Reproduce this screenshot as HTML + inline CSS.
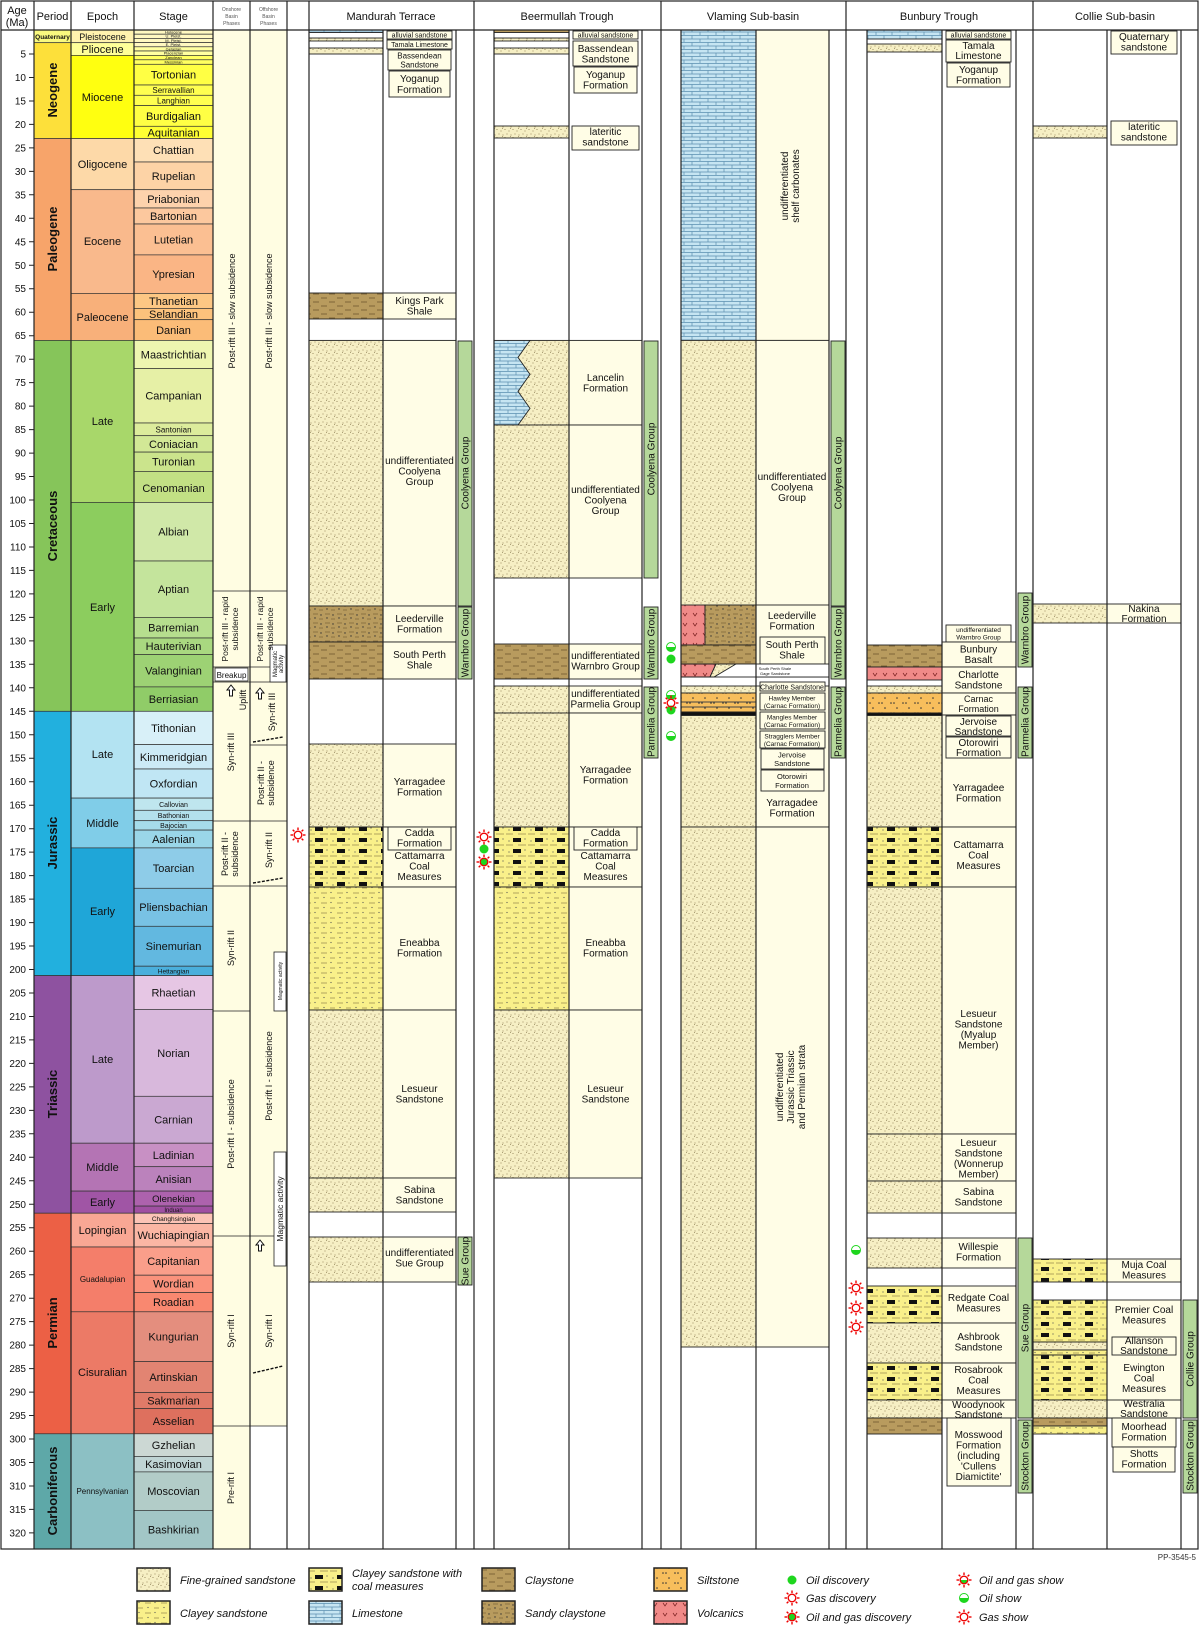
<!DOCTYPE html>
<html><head><meta charset="utf-8"><style>
html,body{margin:0;padding:0;background:#fff}
svg{display:block}
text{font-family:"Liberation Sans",sans-serif;fill:#111}
.n{font-size:10px;text-anchor:middle}
.s{font-size:11px;text-anchor:middle}
.sm{font-size:8px;text-anchor:middle}
.t{font-size:4px;text-anchor:middle}
.ax{font-size:10px;text-anchor:end}
.p{font-size:13px;font-weight:bold;text-anchor:middle}
.g{font-size:10px;text-anchor:middle}
.lg{font-size:11px;font-style:italic}
.h{font-size:11px;text-anchor:middle}
.hs{font-size:5px;text-anchor:middle;fill:#555}
</style></head><body>
<svg width="1200" height="1626" viewBox="0 0 1200 1626" xmlns="http://www.w3.org/2000/svg">
<defs>
<pattern id="fs" width="8" height="8" patternUnits="userSpaceOnUse"><rect width="8" height="8" fill="#f6efc4"/><circle cx="1" cy="1.5" r=".55" fill="#8a7a50"/><circle cx="5" cy="3" r=".55" fill="#8a7a50"/><circle cx="3" cy="6" r=".55" fill="#8a7a50"/><circle cx="7" cy="7" r=".55" fill="#8a7a50"/><circle cx="6.5" cy="0.5" r=".45" fill="#8a7a50"/></pattern>
<pattern id="cs" width="16" height="10" patternUnits="userSpaceOnUse"><rect width="16" height="10" fill="#f9f08a"/><path d="M1 3h6M10 8h5" stroke="#9a8a50" stroke-width=".8"/><circle cx="11" cy="2.5" r=".6" fill="#555"/><circle cx="4" cy="7.5" r=".6" fill="#555"/></pattern>
<pattern id="coal" width="22" height="11" patternUnits="userSpaceOnUse"><rect width="22" height="11" fill="#f9f08a"/><rect x="7" y="2" width="8" height="4" fill="#111"/><path d="M0 9h7M12 9h8" stroke="#9a8a50" stroke-width=".8"/><circle cx="3" cy="5" r=".6" fill="#555"/><circle cx="19" cy="3" r=".6" fill="#555"/></pattern>
<pattern id="clay" width="16" height="8" patternUnits="userSpaceOnUse"><rect width="16" height="8" fill="#b89b5e"/><path d="M1 2h6M9 6h6" stroke="#7e6638" stroke-width=".9"/></pattern>
<pattern id="sclay" width="12" height="9" patternUnits="userSpaceOnUse"><rect width="12" height="9" fill="#b89b5e"/><path d="M1 2h5M7 7h4" stroke="#7e6638" stroke-width=".8"/><circle cx="9" cy="3" r=".7" fill="#333"/><circle cx="3" cy="6" r=".7" fill="#333"/></pattern>
<pattern id="lime" width="16" height="7" patternUnits="userSpaceOnUse"><rect width="16" height="7" fill="#c6e5f2"/><path d="M0 .5h16M0 4h16M4 .5v3.5M12 4v3" stroke="#5a8fb0" stroke-width=".7"/></pattern>
<pattern id="silt" width="12" height="10" patternUnits="userSpaceOnUse"><rect width="12" height="10" fill="#f7be5c"/><circle cx="3" cy="3" r=".8" fill="#333"/><circle cx="6" cy="3" r=".8" fill="#333"/><circle cx="9" cy="8" r=".8" fill="#333"/></pattern>
<pattern id="volc" width="10" height="10" patternUnits="userSpaceOnUse"><rect width="10" height="10" fill="#f08a88"/><path d="M3 3l2 3l2-3" stroke="#7a2020" stroke-width=".7" fill="none"/></pattern>
<symbol id="sun" viewBox="-8 -8 16 16"><circle r="3.8" fill="none" stroke="#e00" stroke-width="1.4"/><g stroke="#e00" stroke-width="1.4"><line x1="0" y1="-7.5" x2="0" y2="-5"/><line x1="0" y1="7.5" x2="0" y2="5"/><line x1="-7.5" y1="0" x2="-5" y2="0"/><line x1="7.5" y1="0" x2="5" y2="0"/><line x1="-5.3" y1="-5.3" x2="-3.6" y2="-3.6"/><line x1="5.3" y1="5.3" x2="3.6" y2="3.6"/><line x1="-5.3" y1="5.3" x2="-3.6" y2="3.6"/><line x1="5.3" y1="-5.3" x2="3.6" y2="-3.6"/></g></symbol>
</defs>
<rect width="1200" height="1626" fill="#fff"/>

<rect x="213" y="30" width="37" height="1519" fill="#fffde2"/>
<rect x="250" y="30" width="37" height="1396" fill="#fffde2"/>

<rect x="34" y="30" width="37" height="12.7" fill="#f9f97f" stroke="#333" stroke-width=".7"/>
<text x="52.5" y="39" style="font-size:6.5px;font-weight:bold;text-anchor:middle">Quaternary</text>
<rect x="34" y="42.7" width="37" height="95.8" fill="#fde03a" stroke="#333" stroke-width=".7"/>
<rect x="34" y="138.5" width="37" height="201.9" fill="#f7a46a" stroke="#333" stroke-width=".7"/>
<rect x="34" y="340.4" width="37" height="370.9" fill="#86c55a" stroke="#333" stroke-width=".7"/>
<rect x="34" y="711.3" width="37" height="264.3" fill="#22b0de" stroke="#333" stroke-width=".7"/>
<rect x="34" y="975.6" width="37" height="237.6" fill="#8e52a0" stroke="#333" stroke-width=".7"/>
<rect x="34" y="1213.2" width="37" height="220.6" fill="#ec6045" stroke="#333" stroke-width=".7"/>
<rect x="34" y="1433.8" width="37" height="115.2" fill="#5ea8a8" stroke="#333" stroke-width=".7"/>
<text class="p" transform="translate(57,90) rotate(-90)">Neogene</text>
<text class="p" transform="translate(57,239) rotate(-90)">Paleogene</text>
<text class="p" transform="translate(57,526) rotate(-90)">Cretaceous</text>
<text class="p" transform="translate(57,843) rotate(-90)">Jurassic</text>
<text class="p" transform="translate(57,1094) rotate(-90)">Triassic</text>
<text class="p" transform="translate(57,1323) rotate(-90)">Permian</text>
<text class="p" transform="translate(57,1491) rotate(-90)">Carboniferous</text>

<g stroke="#333" stroke-width=".7">
<rect x="71" y="30" width="63" height="12.7" fill="#fff2ae"/>
<rect x="71" y="42.7" width="63" height="12.7" fill="#ffff99"/>
<rect x="71" y="55.4" width="63" height="83.1" fill="#ffff10"/>
<rect x="71" y="138.5" width="63" height="51.2" fill="#fdd9a8"/>
<rect x="71" y="189.7" width="63" height="103.7" fill="#f9b98c"/>
<rect x="71" y="293.4" width="63" height="47" fill="#f8b07a"/>
<rect x="71" y="340.4" width="63" height="162" fill="#a8d76a"/>
<rect x="71" y="502.4" width="63" height="208.9" fill="#8ccd5e"/>
<rect x="71" y="711.3" width="63" height="86.8" fill="#b3e3f2"/>
<rect x="71" y="798.1" width="63" height="49.8" fill="#80cde8"/>
<rect x="71" y="847.9" width="63" height="127.7" fill="#1fa6d8"/>
<rect x="71" y="975.6" width="63" height="167.6" fill="#bd9acb"/>
<rect x="71" y="1143.2" width="63" height="47.9" fill="#b474b4"/>
<rect x="71" y="1191.1" width="63" height="22.1" fill="#a055a5"/>
<rect x="71" y="1213.2" width="63" height="33.8" fill="#f9a794"/>
<rect x="71" y="1247" width="63" height="64.8" fill="#f47e6a"/>
<rect x="71" y="1311.8" width="63" height="122" fill="#ec7a66"/>
<rect x="71" y="1433.8" width="63" height="115.2" fill="#8cc0c4"/>
</g>
<text x="102.5" y="40" class="sm" style="font-size:9px">Pleistocene</text>
<text x="102.5" y="53" class="s">Pliocene</text>
<text x="102.5" y="101" class="s">Miocene</text>
<text x="102.5" y="168" class="s">Oligocene</text>
<text x="102.5" y="245" class="s">Eocene</text>
<text x="102.5" y="321" class="s">Paleocene</text>
<text x="102.5" y="425" class="s">Late</text>
<text x="102.5" y="611" class="s">Early</text>
<text x="102.5" y="758" class="s">Late</text>
<text x="102.5" y="827" class="s">Middle</text>
<text x="102.5" y="915" class="s">Early</text>
<text x="102.5" y="1063" class="s">Late</text>
<text x="102.5" y="1171" class="s">Middle</text>
<text x="102.5" y="1206" class="s">Early</text>
<text x="102.5" y="1234" class="s">Lopingian</text>
<text x="102.5" y="1282" class="sm">Guadalupian</text>
<text x="102.5" y="1376" class="s">Cisuralian</text>
<text x="102.5" y="1494" class="sm">Pennsylvanian</text>

<g stroke="#333" stroke-width=".7">
<rect x="134" y="30" width="79" height="4.2" fill="#fff8c0"/><rect x="134" y="34.2" width="79" height="4.2" fill="#fff8c0"/><rect x="134" y="38.4" width="79" height="4.2" fill="#fff8c0"/><rect x="134" y="42.6" width="79" height="4.2" fill="#fff8c0"/><rect x="134" y="46.8" width="79" height="4.2" fill="#ffffa0"/><rect x="134" y="51" width="79" height="4.4" fill="#ffffa0"/><rect x="134" y="55.4" width="79" height="4.4" fill="#ffff60"/><rect x="134" y="59.8" width="79" height="4.5" fill="#ffff60"/>
<rect x="134" y="64.3" width="79" height="20.7" fill="#ffff44"/>
<rect x="134" y="85" width="79" height="10.3" fill="#ffff50"/>
<rect x="134" y="95.3" width="79" height="10.3" fill="#ffff50"/>
<rect x="134" y="105.6" width="79" height="20.7" fill="#ffff44"/>
<rect x="134" y="126.3" width="79" height="12.2" fill="#ffff33"/>
<rect x="134" y="138.5" width="79" height="23.5" fill="#fee0b6"/>
<rect x="134" y="162" width="79" height="27.7" fill="#fdd3a6"/>
<rect x="134" y="189.7" width="79" height="18.3" fill="#fdd2ac"/>
<rect x="134" y="208" width="79" height="16" fill="#fcc89e"/>
<rect x="134" y="224" width="79" height="30.9" fill="#fbbf92"/>
<rect x="134" y="254.9" width="79" height="38.5" fill="#fab585"/>
<rect x="134" y="293.4" width="79" height="15" fill="#fdc784"/>
<rect x="134" y="308.4" width="79" height="11.3" fill="#fcc27c"/>
<rect x="134" y="319.7" width="79" height="20.7" fill="#fbbc78"/>
<rect x="134" y="340.4" width="79" height="28.1" fill="#eef6b0"/>
<rect x="134" y="368.5" width="79" height="54.5" fill="#e6f0a6"/>
<rect x="134" y="423" width="79" height="12.7" fill="#dcec9c"/>
<rect x="134" y="435.7" width="79" height="16.4" fill="#d2e896"/>
<rect x="134" y="452.1" width="79" height="19.3" fill="#cbe48c"/>
<rect x="134" y="471.4" width="79" height="31" fill="#c2e084"/>
<rect x="134" y="502.4" width="79" height="58.6" fill="#d0e8a8"/>
<rect x="134" y="561" width="79" height="56.4" fill="#c4e49c"/>
<rect x="134" y="617.4" width="79" height="20.6" fill="#b6de8e"/>
<rect x="134" y="638" width="79" height="16.5" fill="#a9d880"/>
<rect x="134" y="654.5" width="79" height="32.4" fill="#9dd274"/>
<rect x="134" y="686.9" width="79" height="24.4" fill="#90cc68"/>
<rect x="134" y="711.3" width="79" height="33.3" fill="#d8f0f8"/>
<rect x="134" y="744.6" width="79" height="24.4" fill="#cceaf6"/>
<rect x="134" y="769" width="79" height="29.1" fill="#c0e6f4"/>
<rect x="134" y="798.1" width="79" height="12.2" fill="#bfe6ee"/>
<rect x="134" y="810.3" width="79" height="10.4" fill="#b3e0ec"/>
<rect x="134" y="820.7" width="79" height="9.4" fill="#a6dcea"/>
<rect x="134" y="830.1" width="79" height="17.8" fill="#9ad6e8"/>
<rect x="134" y="847.9" width="79" height="40.4" fill="#8ecce8"/>
<rect x="134" y="888.3" width="79" height="38" fill="#78c2e4"/>
<rect x="134" y="926.3" width="79" height="39.9" fill="#62b8e0"/>
<rect x="134" y="966.2" width="79" height="9.4" fill="#4aafdc"/>
<rect x="134" y="975.6" width="79" height="33.8" fill="#e6c6e4"/>
<rect x="134" y="1009.4" width="79" height="86.9" fill="#d8b8dc"/>
<rect x="134" y="1096.3" width="79" height="46.9" fill="#caa8d2"/>
<rect x="134" y="1143.2" width="79" height="23.5" fill="#c890c4"/>
<rect x="134" y="1166.7" width="79" height="24.4" fill="#bb82bc"/>
<rect x="134" y="1191.1" width="79" height="15" fill="#ad62ad"/>
<rect x="134" y="1206.1" width="79" height="7.1" fill="#a050a2"/>
<rect x="134" y="1213.2" width="79" height="10.3" fill="#fcc4b6"/>
<rect x="134" y="1223.5" width="79" height="23.5" fill="#fbb6a4"/>
<rect x="134" y="1247" width="79" height="28.2" fill="#fa9e8a"/>
<rect x="134" y="1275.2" width="79" height="17.3" fill="#fa927c"/>
<rect x="134" y="1292.5" width="79" height="19.3" fill="#f98870"/>
<rect x="134" y="1311.8" width="79" height="49.7" fill="#e48e7e"/>
<rect x="134" y="1361.5" width="79" height="31" fill="#e28472"/>
<rect x="134" y="1392.5" width="79" height="16" fill="#e07a68"/>
<rect x="134" y="1408.5" width="79" height="25.3" fill="#de705e"/>
<rect x="134" y="1433.8" width="79" height="22.6" fill="#ccd8d4"/>
<rect x="134" y="1456.4" width="79" height="15.5" fill="#bfd4d4"/>
<rect x="134" y="1471.9" width="79" height="38.5" fill="#b2ccc8"/>
<rect x="134" y="1510.4" width="79" height="38.6" fill="#a2c6c6"/>
</g>
<text x="173.5" y="33.5" class="t">Holocene</text><text x="173.5" y="37.7" class="t">U. Pleist.</text><text x="173.5" y="41.9" class="t">M. Pleist.</text><text x="173.5" y="46.1" class="t">E. Pleist.</text><text x="173.5" y="50.3" class="t">Gelasian</text><text x="173.5" y="54.6" class="t">Piacenzian</text><text x="173.5" y="59" class="t">Zanclean</text><text x="173.5" y="63.5" class="t">Messinian</text>
<text x="173.5" y="78.5" class="s">Tortonian</text>
<text x="173.5" y="93" class="sm">Serravallian</text>
<text x="173.5" y="103.3" class="sm">Langhian</text>
<text x="173.5" y="119.8" class="s">Burdigalian</text>
<text x="173.5" y="136.3" class="s">Aquitanian</text>
<text x="173.5" y="154.2" class="s">Chattian</text>
<text x="173.5" y="179.8" class="s">Rupelian</text>
<text x="173.5" y="202.8" class="s">Priabonian</text>
<text x="173.5" y="219.9" class="s">Bartonian</text>
<text x="173.5" y="243.4" class="s">Lutetian</text>
<text x="173.5" y="278" class="s">Ypresian</text>
<text x="173.5" y="304.8" class="s">Thanetian</text>
<text x="173.5" y="318" class="s">Selandian</text>
<text x="173.5" y="334" class="s">Danian</text>
<text x="173.5" y="358.4" class="s">Maastrichtian</text>
<text x="173.5" y="399.7" class="s">Campanian</text>
<text x="173.5" y="432.3" class="sm">Santonian</text>
<text x="173.5" y="447.8" class="s">Coniacian</text>
<text x="173.5" y="465.7" class="s">Turonian</text>
<text x="173.5" y="491.8" class="s">Cenomanian</text>
<text x="173.5" y="535.7" class="s">Albian</text>
<text x="173.5" y="593.2" class="s">Aptian</text>
<text x="173.5" y="631.7" class="s">Barremian</text>
<text x="173.5" y="650.2" class="s">Hauterivian</text>
<text x="173.5" y="674.7" class="s">Valanginian</text>
<text x="173.5" y="703" class="s">Berriasian</text>
<text x="173.5" y="731.9" class="s">Tithonian</text>
<text x="173.5" y="760.8" class="s">Kimmeridgian</text>
<text x="173.5" y="787.5" class="s">Oxfordian</text>
<text x="173.5" y="807" class="sm" style="font-size:7px">Callovian</text>
<text x="173.5" y="818" class="sm" style="font-size:7px">Bathonian</text>
<text x="173.5" y="828" class="sm" style="font-size:7px">Bajocian</text>
<text x="173.5" y="842.8" class="s">Aalenian</text>
<text x="173.5" y="872" class="s">Toarcian</text>
<text x="173.5" y="911.2" class="s">Pliensbachian</text>
<text x="173.5" y="950.2" class="s">Sinemurian</text>
<text x="173.5" y="973.4" class="sm" style="font-size:6.5px">Hettangian</text>
<text x="173.5" y="996.4" class="s">Rhaetian</text>
<text x="173.5" y="1056.8" class="s">Norian</text>
<text x="173.5" y="1123.7" class="s">Carnian</text>
<text x="173.5" y="1158.9" class="s">Ladinian</text>
<text x="173.5" y="1182.8" class="s">Anisian</text>
<text x="173.5" y="1202" class="sm" style="font-size:9.5px">Olenekian</text>
<text x="173.5" y="1212" class="t" style="font-size:6px">Induan</text>
<text x="173.5" y="1221" class="t" style="font-size:6.5px">Changhsingian</text>
<text x="173.5" y="1239" class="s">Wuchiapingian</text>
<text x="173.5" y="1265" class="s">Capitanian</text>
<text x="173.5" y="1287.5" class="s">Wordian</text>
<text x="173.5" y="1306" class="s">Roadian</text>
<text x="173.5" y="1340.5" class="s">Kungurian</text>
<text x="173.5" y="1381" class="s">Artinskian</text>
<text x="173.5" y="1404.5" class="s">Sakmarian</text>
<text x="173.5" y="1425" class="s">Asselian</text>
<text x="173.5" y="1449" class="s">Gzhelian</text>
<text x="173.5" y="1468" class="s">Kasimovian</text>
<text x="173.5" y="1495" class="s">Moscovian</text>
<text x="173.5" y="1533.5" class="s">Bashkirian</text>

<g stroke="#222" stroke-width="1">
<path d="M29 54h5M29 77.5h5M29 101h5M29 124.4h5M29 147.9h5M29 171.4h5M29 194.8h5M29 218.3h5M29 241.8h5M29 265.3h5M29 288.7h5M29 312.2h5M29 335.7h5M29 359.2h5M29 382.6h5M29 406.1h5M29 429.6h5M29 453.1h5M29 476.5h5M29 500h5M29 523.5h5M29 547h5M29 570.4h5M29 593.9h5M29 617.4h5M29 640.9h5M29 664.3h5M29 687.8h5M29 711.3h5M29 734.8h5M29 758.2h5M29 781.7h5M29 805.2h5M29 828.7h5M29 852.1h5M29 875.6h5M29 899.1h5M29 922.6h5M29 946h5M29 969.5h5M29 993h5M29 1016.5h5M29 1039.9h5M29 1063.4h5M29 1086.9h5M29 1110.4h5M29 1133.8h5M29 1157.3h5M29 1180.8h5M29 1204.3h5M29 1227.7h5M29 1251.2h5M29 1274.7h5M29 1298.2h5M29 1321.6h5M29 1345.1h5M29 1368.6h5M29 1392.1h5M29 1415.5h5M29 1439h5M29 1462.5h5M29 1486h5M29 1509.4h5M29 1532.9h5"/>
</g>
<g class="ax">
<text x="26" y="57.5" class="ax">5</text><text x="26" y="81" class="ax">10</text><text x="26" y="104.5" class="ax">15</text><text x="26" y="128" class="ax">20</text><text x="26" y="151.4" class="ax">25</text><text x="26" y="174.9" class="ax">30</text><text x="26" y="198.3" class="ax">35</text><text x="26" y="221.8" class="ax">40</text><text x="26" y="245.3" class="ax">45</text><text x="26" y="268.8" class="ax">50</text><text x="26" y="292.2" class="ax">55</text><text x="26" y="315.7" class="ax">60</text><text x="26" y="339.2" class="ax">65</text><text x="26" y="362.7" class="ax">70</text><text x="26" y="386.1" class="ax">75</text><text x="26" y="409.6" class="ax">80</text><text x="26" y="433.1" class="ax">85</text><text x="26" y="456.6" class="ax">90</text><text x="26" y="480" class="ax">95</text><text x="26" y="503.5" class="ax">100</text><text x="26" y="527" class="ax">105</text><text x="26" y="550.5" class="ax">110</text><text x="26" y="573.9" class="ax">115</text><text x="26" y="597.4" class="ax">120</text><text x="26" y="620.9" class="ax">125</text><text x="26" y="644.4" class="ax">130</text><text x="26" y="667.8" class="ax">135</text><text x="26" y="691.3" class="ax">140</text><text x="26" y="714.8" class="ax">145</text><text x="26" y="738.3" class="ax">150</text><text x="26" y="761.7" class="ax">155</text><text x="26" y="785.2" class="ax">160</text><text x="26" y="808.7" class="ax">165</text><text x="26" y="832.2" class="ax">170</text><text x="26" y="855.6" class="ax">175</text><text x="26" y="879.1" class="ax">180</text><text x="26" y="902.6" class="ax">185</text><text x="26" y="926.1" class="ax">190</text><text x="26" y="949.5" class="ax">195</text><text x="26" y="973" class="ax">200</text><text x="26" y="996.5" class="ax">205</text><text x="26" y="1020" class="ax">210</text><text x="26" y="1043.4" class="ax">215</text><text x="26" y="1066.9" class="ax">220</text><text x="26" y="1090.4" class="ax">225</text><text x="26" y="1113.9" class="ax">230</text><text x="26" y="1137.3" class="ax">235</text><text x="26" y="1160.8" class="ax">240</text><text x="26" y="1184.3" class="ax">245</text><text x="26" y="1207.8" class="ax">250</text><text x="26" y="1231.2" class="ax">255</text><text x="26" y="1254.7" class="ax">260</text><text x="26" y="1278.2" class="ax">265</text><text x="26" y="1301.7" class="ax">270</text><text x="26" y="1325.1" class="ax">275</text><text x="26" y="1348.6" class="ax">280</text><text x="26" y="1372.1" class="ax">285</text><text x="26" y="1395.6" class="ax">290</text><text x="26" y="1419" class="ax">295</text><text x="26" y="1442.5" class="ax">300</text><text x="26" y="1466" class="ax">305</text><text x="26" y="1489.5" class="ax">310</text><text x="26" y="1512.9" class="ax">315</text><text x="26" y="1536.4" class="ax">320</text>
</g>

<g stroke="#222" stroke-width=".8">
<path d="M213 591h74M213 667h74M213 682h74M213 821h74M213 886h74M213 1011h37M213 1236h74M213 1426h74M250 745h37"/>
<rect x="215" y="668" width="33" height="13" fill="#fff"/>
<rect x="270" y="645" width="16" height="37" fill="#fff"/>
<rect x="274" y="952" width="12" height="59" fill="#fff"/>
<rect x="274" y="1152" width="12" height="114" fill="#fff"/>
</g>
<text x="231.5" y="678" style="font-size:8px;text-anchor:middle">Breakup</text>
<g style="font-size:9px">
<text transform="translate(235,311) rotate(-90)" style="text-anchor:middle;font-size:9px">Post-rift III - slow subsidence</text>
<text transform="translate(272,311) rotate(-90)" style="text-anchor:middle;font-size:9px">Post-rift III - slow subsidence</text>
<text transform="translate(228,629) rotate(-90)" style="text-anchor:middle;font-size:8.5px">Post-rift III - rapid</text>
<text transform="translate(238,629) rotate(-90)" style="text-anchor:middle;font-size:8.5px">subsidence</text>
<text transform="translate(263,629) rotate(-90)" style="text-anchor:middle;font-size:8.5px">Post-rift III - rapid</text>
<text transform="translate(273,629) rotate(-90)" style="text-anchor:middle;font-size:8.5px">subsidence</text>
<text transform="translate(277,664) rotate(-90)" style="text-anchor:middle;font-size:6px">Magmatic</text>
<text transform="translate(283,664) rotate(-90)" style="text-anchor:middle;font-size:6px">activity</text>
<text transform="translate(246,700) rotate(-90)" style="text-anchor:middle;font-size:9px">Uplift</text>
<text transform="translate(234,752) rotate(-90)" style="text-anchor:middle;font-size:9px">Syn-rift III</text>
<text transform="translate(275,712) rotate(-90)" style="text-anchor:middle;font-size:9px">Syn-rift III</text>
<text transform="translate(264,783) rotate(-90)" style="text-anchor:middle;font-size:9px">Post-rift II -</text>
<text transform="translate(274,783) rotate(-90)" style="text-anchor:middle;font-size:9px">subsidence</text>
<text transform="translate(228,854) rotate(-90)" style="text-anchor:middle;font-size:9px">Post-rift II -</text>
<text transform="translate(238,854) rotate(-90)" style="text-anchor:middle;font-size:9px">subsidence</text>
<text transform="translate(272,850) rotate(-90)" style="text-anchor:middle;font-size:9px">Syn-rift II</text>
<text transform="translate(234,948) rotate(-90)" style="text-anchor:middle;font-size:9px">Syn-rift II</text>
<text transform="translate(282,981) rotate(-90)" style="text-anchor:middle;font-size:5px">Magmatic activity</text>
<text transform="translate(234,1124) rotate(-90)" style="text-anchor:middle;font-size:9px">Post-rift I - subsidence</text>
<text transform="translate(272,1076) rotate(-90)" style="text-anchor:middle;font-size:9px">Post-rift I - subsidence</text>
<text transform="translate(283,1209) rotate(-90)" style="text-anchor:middle;font-size:8.5px">Magmatic activity</text>
<text transform="translate(234,1331) rotate(-90)" style="text-anchor:middle;font-size:9px">Syn-rift I</text>
<text transform="translate(272,1331) rotate(-90)" style="text-anchor:middle;font-size:9px">Syn-rift I</text>
<text transform="translate(234,1488) rotate(-90)" style="text-anchor:middle;font-size:9px">Pre-rift I</text>
</g>
<g fill="#fff" stroke="#111" stroke-width="1">
<path d="M231 685l-4 5h2.5v6h3v-6h2.5z"/>
<path d="M260 688l-4 5h2.5v6h3v-6h2.5z"/>
<path d="M260 1240l-4 5h2.5v6h3v-6h2.5z"/>
</g>
<g stroke="#111" stroke-width="1.4" stroke-dasharray="3 1.5">
<path d="M253 742l30-5M253 883l30-5M253 1373l30-7"/>
</g>

<g stroke="#222" stroke-width=".9">
<rect x="309" y="30" width="74" height="2.5" fill="url(#lime)"/>
<rect x="309" y="38" width="74" height="3" fill="url(#fs)"/>
<rect x="309" y="48" width="74" height="6" fill="url(#fs)"/>
<rect x="387" y="31" width="65" height="8" fill="#fffde6"/>
<rect x="387" y="40" width="65" height="9" fill="#fffde6"/>
<rect x="388" y="50" width="63" height="20" fill="#fffde6"/>
<rect x="389" y="71" width="61" height="26" fill="#fffde6"/>
<rect x="309" y="293" width="74" height="26" fill="url(#clay)"/><rect x="383" y="293" width="73" height="26" fill="#fffde6"/>
<rect x="309" y="340.4" width="74" height="265.6" fill="url(#fs)"/><rect x="383" y="340.4" width="73" height="265.6" fill="#fffde6"/>
<rect x="309" y="606" width="74" height="36" fill="url(#sclay)"/><rect x="383" y="606" width="73" height="36" fill="#fffde6"/>
<rect x="309" y="642" width="74" height="37" fill="url(#clay)"/><rect x="383" y="642" width="73" height="37" fill="#fffde6"/>
<rect x="309" y="744" width="74" height="83" fill="url(#fs)"/><rect x="383" y="744" width="73" height="83" fill="#fffde6"/>
<rect x="309" y="827" width="74" height="60" fill="url(#coal)"/><rect x="383" y="827" width="73" height="60" fill="#fffde6"/>
<rect x="388" y="827" width="63" height="23" fill="#fffde6"/>
<rect x="309" y="887" width="74" height="123" fill="url(#cs)"/><rect x="383" y="887" width="73" height="123" fill="#fffde6"/>
<rect x="309" y="1010" width="74" height="168" fill="url(#fs)"/><rect x="383" y="1010" width="73" height="168" fill="#fffde6"/>
<rect x="309" y="1178" width="74" height="34" fill="url(#fs)"/><rect x="383" y="1178" width="73" height="34" fill="#fffde6"/>
<rect x="309" y="1237" width="74" height="45" fill="url(#fs)"/><rect x="383" y="1237" width="73" height="45" fill="#fffde6"/>
<rect x="458" y="341" width="14" height="265" fill="#b5d89a"/>
<rect x="458" y="607" width="14" height="72" fill="#b5d89a"/>
<rect x="458" y="1237" width="14" height="48" fill="#b5d89a"/>
</g>
<text x="419.5" y="37.5" class="n" style="font-size:7px">alluvial sandstone</text>
<text x="419.5" y="47" class="n" style="font-size:7px">Tamala Limestone</text>
<text x="419.5" y="58.5" class="n" style="font-size:8px">Bassendean</text><text x="419.5" y="67.5" class="n" style="font-size:8px">Sandstone</text>
<text x="419.5" y="82" class="n">Yoganup</text><text x="419.5" y="93" class="n">Formation</text>
<text x="419.5" y="304" class="n">Kings Park</text><text x="419.5" y="314.5" class="n">Shale</text>
<text x="419.5" y="464" class="n">undifferentiated</text><text x="419.5" y="474.5" class="n">Coolyena</text><text x="419.5" y="485" class="n">Group</text>
<text x="419.5" y="622" class="n">Leederville</text><text x="419.5" y="632.5" class="n">Formation</text>
<text x="419.5" y="658" class="n">South Perth</text><text x="419.5" y="668.5" class="n">Shale</text>
<text x="419.5" y="785" class="n">Yarragadee</text><text x="419.5" y="795.5" class="n">Formation</text>
<text x="419.5" y="836" class="n">Cadda</text><text x="419.5" y="846.5" class="n">Formation</text>
<text x="419.5" y="859" class="n">Cattamarra</text><text x="419.5" y="869.5" class="n">Coal</text><text x="419.5" y="880" class="n">Measures</text>
<text x="419.5" y="946" class="n">Eneabba</text><text x="419.5" y="956.5" class="n">Formation</text>
<text x="419.5" y="1092" class="n">Lesueur</text><text x="419.5" y="1102.5" class="n">Sandstone</text>
<text x="419.5" y="1193" class="n">Sabina</text><text x="419.5" y="1203.5" class="n">Sandstone</text>
<text x="419.5" y="1256" class="n">undifferentiated</text><text x="419.5" y="1266.5" class="n">Sue Group</text>
<text class="g" transform="translate(468.5,473) rotate(-90)">Coolyena Group</text>
<text class="g" transform="translate(468.5,643) rotate(-90)">Warnbro Group</text>
<text class="g" transform="translate(468.5,1261) rotate(-90)">Sue Group</text>

<g stroke="#222" stroke-width=".9">
<rect x="494" y="30" width="75" height="2.5" fill="url(#clay)"/>
<rect x="494" y="38" width="75" height="3" fill="url(#fs)"/>
<rect x="494" y="48" width="75" height="6" fill="url(#fs)"/>
<rect x="573" y="31" width="65" height="8" fill="#fffde6"/>
<rect x="573" y="41" width="65" height="25" fill="#fffde6"/>
<rect x="574" y="67" width="63" height="26" fill="#fffde6"/>
<rect x="494" y="126" width="75" height="12" fill="url(#fs)"/>
<rect x="572" y="126" width="67" height="24" fill="#fffde6"/>
<rect x="494" y="340.4" width="75" height="84.6" fill="url(#fs)"/><rect x="569" y="340.4" width="73" height="84.6" fill="#fffde6"/>
<path d="M494 340.4h36l-12 17l12 17l-12 17l12 17l-12 16.6h-24z" fill="url(#lime)"/>
<rect x="494" y="425" width="75" height="153" fill="url(#fs)"/><rect x="569" y="425" width="73" height="153" fill="#fffde6"/>
<rect x="494" y="644" width="75" height="35" fill="url(#clay)"/><rect x="569" y="644" width="73" height="35" fill="#fffde6"/>
<rect x="494" y="686" width="75" height="27" fill="url(#fs)"/><rect x="569" y="686" width="73" height="27" fill="#fffde6"/>
<rect x="494" y="713" width="75" height="114" fill="url(#fs)"/><rect x="569" y="713" width="73" height="114" fill="#fffde6"/>
<rect x="494" y="827" width="75" height="60" fill="url(#coal)"/><rect x="569" y="827" width="73" height="60" fill="#fffde6"/>
<rect x="574" y="827" width="63" height="23" fill="#fffde6"/>
<rect x="494" y="887" width="75" height="123" fill="url(#cs)"/><rect x="569" y="887" width="73" height="123" fill="#fffde6"/>
<rect x="494" y="1010" width="75" height="168" fill="url(#fs)"/><rect x="569" y="1010" width="73" height="168" fill="#fffde6"/>
<rect x="644" y="341" width="14" height="237" fill="#b5d89a"/>
<rect x="644" y="607" width="14" height="72" fill="#b5d89a"/>
<rect x="644" y="687" width="14" height="71" fill="#b5d89a"/>
</g>
<text x="605.5" y="37.5" class="n" style="font-size:7px">alluvial sandstone</text>
<text x="605.5" y="52" class="n">Bassendean</text><text x="605.5" y="62.5" class="n">Sandstone</text>
<text x="605.5" y="78" class="n">Yoganup</text><text x="605.5" y="88.5" class="n">Formation</text>
<text x="605.5" y="135" class="n">lateritic</text><text x="605.5" y="145.5" class="n">sandstone</text>
<text x="605.5" y="381" class="n">Lancelin</text><text x="605.5" y="391.5" class="n">Formation</text>
<text x="605.5" y="493" class="n">undifferentiated</text><text x="605.5" y="503.5" class="n">Coolyena</text><text x="605.5" y="514" class="n">Group</text>
<text x="605.5" y="659" class="n">undifferentiated</text><text x="605.5" y="669.5" class="n">Warnbro Group</text>
<text x="605.5" y="697" class="n">undifferentiated</text><text x="605.5" y="707.5" class="n">Parmelia Group</text>
<text x="605.5" y="773" class="n">Yarragadee</text><text x="605.5" y="783.5" class="n">Formation</text>
<text x="605.5" y="836" class="n">Cadda</text><text x="605.5" y="846.5" class="n">Formation</text>
<text x="605.5" y="859" class="n">Cattamarra</text><text x="605.5" y="869.5" class="n">Coal</text><text x="605.5" y="880" class="n">Measures</text>
<text x="605.5" y="946" class="n">Eneabba</text><text x="605.5" y="956.5" class="n">Formation</text>
<text x="605.5" y="1092" class="n">Lesueur</text><text x="605.5" y="1102.5" class="n">Sandstone</text>
<text class="g" transform="translate(654.5,459) rotate(-90)">Coolyena Group</text>
<text class="g" transform="translate(654.5,643) rotate(-90)">Warnbro Group</text>
<text class="g" transform="translate(654.5,722) rotate(-90)">Parmelia Group</text>

<g stroke="#222" stroke-width=".9">
<rect x="681" y="30" width="75" height="310.4" fill="url(#lime)"/><rect x="756" y="30" width="73" height="310.4" fill="#fffde6"/>
<rect x="681" y="340.4" width="75" height="265" fill="url(#fs)"/><rect x="756" y="340.4" width="73" height="265" fill="#fffde6"/>
<rect x="681" y="605" width="24" height="40" fill="url(#volc)"/>
<rect x="705" y="605" width="51" height="40" fill="url(#sclay)"/>
<rect x="681" y="645" width="75" height="19" fill="url(#clay)"/>
<rect x="681" y="664" width="75" height="13" fill="#fff"/>
<path d="M681 664h35l-6 13h-29z" fill="url(#volc)"/>
<path d="M716 664h20l-22 13h-4z" fill="url(#fs)"/>
<rect x="756" y="605" width="73" height="72" fill="#fffde6"/>
<rect x="760" y="637" width="65" height="27" fill="#fffde6"/>
<rect x="756" y="664" width="73" height="13" fill="#fff"/>
<rect x="681" y="686" width="75" height="7" fill="url(#fs)"/>
<rect x="681" y="693" width="75" height="19" fill="url(#silt)"/>
<path d="M681 702h75M681 707h75" stroke="#444"/>
<rect x="681" y="712" width="75" height="3.5" fill="#111"/>
<rect x="681" y="715.5" width="75" height="111.5" fill="url(#fs)"/>
<rect x="756" y="686" width="73" height="141" fill="#fffde6"/>
<rect x="760" y="682" width="65" height="9" fill="#fffde6"/>
<rect x="760" y="693" width="65" height="17" fill="#fffde6"/>
<rect x="760" y="712" width="65" height="17" fill="#fffde6"/>
<rect x="760" y="731" width="65" height="17" fill="#fffde6"/>
<rect x="761" y="749" width="63" height="20" fill="#fffde6"/>
<rect x="761" y="770" width="63" height="21" fill="#fffde6"/>
<rect x="681" y="827" width="75" height="520" fill="url(#fs)"/><rect x="756" y="827" width="73" height="520" fill="#fffde6"/>
<rect x="831" y="341" width="14" height="265" fill="#b5d89a"/>
<rect x="831" y="607" width="14" height="72" fill="#b5d89a"/>
<rect x="831" y="687" width="14" height="71" fill="#b5d89a"/>
</g>
<text transform="translate(788,186) rotate(-90)" class="n">undifferentiated</text>
<text transform="translate(799,186) rotate(-90)" class="n">shelf carbonates</text>
<text x="792" y="480" class="n">undifferentiated</text><text x="792" y="490.5" class="n">Coolyena</text><text x="792" y="501" class="n">Group</text>
<text x="792" y="619" class="n">Leederville</text><text x="792" y="629.5" class="n">Formation</text>
<text x="792" y="648" class="n">South Perth</text><text x="792" y="658.5" class="n">Shale</text>
<text x="775" y="670" style="font-size:4px;text-anchor:middle">South Perth Shale</text><text x="775" y="675" style="font-size:4px;text-anchor:middle">Gage Sandstone</text>
<text x="792" y="689.5" style="font-size:7px;text-anchor:middle">Charlotte Sandstone</text>
<text x="792" y="700.5" style="font-size:6.5px;text-anchor:middle">Hawley Member</text><text x="792" y="708" style="font-size:6.5px;text-anchor:middle">(Carnac Formation)</text>
<text x="792" y="719.5" style="font-size:6.5px;text-anchor:middle">Mangles Member</text><text x="792" y="727" style="font-size:6.5px;text-anchor:middle">(Carnac Formation)</text>
<text x="792" y="738.5" style="font-size:6.5px;text-anchor:middle">Stragglers Member</text><text x="792" y="746" style="font-size:6.5px;text-anchor:middle">(Carnac Formation)</text>
<text x="792" y="757.5" style="font-size:7.5px;text-anchor:middle">Jervoise</text><text x="792" y="766" style="font-size:7.5px;text-anchor:middle">Sandstone</text>
<text x="792" y="779" style="font-size:7.5px;text-anchor:middle">Otorowiri</text><text x="792" y="788" style="font-size:7.5px;text-anchor:middle">Formation</text>
<text x="792" y="806" class="n">Yarragadee</text><text x="792" y="816.5" class="n">Formation</text>
<text transform="translate(783,1087) rotate(-90)" class="n">undifferentiated</text>
<text transform="translate(794,1087) rotate(-90)" class="n">Jurassic Triassic</text>
<text transform="translate(805,1087) rotate(-90)" class="n">and Permian strata</text>
<text class="g" transform="translate(841.5,473) rotate(-90)">Coolyena Group</text>
<text class="g" transform="translate(841.5,643) rotate(-90)">Warnbro Group</text>
<text class="g" transform="translate(841.5,722) rotate(-90)">Parmelia Group</text>

<g stroke="#222" stroke-width=".9">
<rect x="867" y="30" width="75" height="9" fill="url(#lime)"/>
<rect x="867" y="44" width="75" height="8" fill="url(#fs)"/>
<rect x="946" y="31" width="65" height="8" fill="#fffde6"/>
<rect x="946" y="40" width="65" height="22" fill="#fffde6"/>
<rect x="947" y="63" width="63" height="24" fill="#fffde6"/>
<rect x="946" y="625" width="65" height="17" fill="#fffde6"/>
<rect x="867" y="645" width="75" height="22" fill="url(#clay)"/>
<rect x="867" y="667" width="75" height="13" fill="url(#volc)"/>
<rect x="867" y="686" width="75" height="7" fill="url(#fs)"/>
<rect x="942" y="642" width="74" height="25" fill="#fffde6"/>
<rect x="942" y="667" width="74" height="26" fill="#fffde6"/>
<rect x="867" y="693" width="75" height="20" fill="url(#silt)"/>
<rect x="867" y="713" width="75" height="2.5" fill="#111"/>
<rect x="942" y="693" width="74" height="22" fill="#fffde6"/>
<rect x="867" y="715.5" width="75" height="111.5" fill="url(#fs)"/>
<rect x="942" y="715" width="74" height="112" fill="#fffde6"/>
<rect x="946" y="716" width="65" height="20" fill="#fffde6"/>
<rect x="946" y="737" width="65" height="21" fill="#fffde6"/>
<rect x="867" y="827" width="75" height="60" fill="url(#coal)"/><rect x="942" y="827" width="74" height="60" fill="#fffde6"/>
<rect x="867" y="887" width="75" height="247" fill="url(#fs)"/><rect x="942" y="887" width="74" height="247" fill="#fffde6"/>
<rect x="867" y="1134" width="75" height="47" fill="url(#fs)"/><rect x="942" y="1134" width="74" height="47" fill="#fffde6"/>
<rect x="867" y="1181" width="75" height="32" fill="url(#fs)"/><rect x="942" y="1181" width="74" height="32" fill="#fffde6"/>
<rect x="867" y="1238" width="75" height="30" fill="url(#fs)"/><rect x="942" y="1238" width="74" height="30" fill="#fffde6"/>
<rect x="867" y="1286" width="75" height="37" fill="url(#coal)"/><rect x="942" y="1286" width="74" height="37" fill="#fffde6"/>
<rect x="867" y="1323" width="75" height="40" fill="url(#fs)"/><rect x="942" y="1323" width="74" height="40" fill="#fffde6"/>
<rect x="867" y="1363" width="75" height="37" fill="url(#coal)"/><rect x="942" y="1363" width="74" height="37" fill="#fffde6"/>
<rect x="867" y="1400" width="75" height="18" fill="url(#fs)"/><rect x="942" y="1400" width="74" height="18" fill="#fffde6"/>
<rect x="867" y="1418" width="75" height="16" fill="url(#clay)"/>
<rect x="947" y="1418" width="64" height="68" fill="#fffde6"/>
<rect x="1018" y="593" width="14" height="74" fill="#b5d89a"/>
<rect x="1018" y="687" width="14" height="71" fill="#b5d89a"/>
<rect x="1018" y="1238" width="14" height="180" fill="#b5d89a"/>
<rect x="1018" y="1420" width="14" height="73" fill="#b5d89a"/>
</g>
<text x="978.5" y="37.5" class="n" style="font-size:7px">alluvial sandstone</text>
<text x="978.5" y="49" class="n">Tamala</text><text x="978.5" y="59" class="n">Limestone</text>
<text x="978.5" y="73" class="n">Yoganup</text><text x="978.5" y="83.5" class="n">Formation</text>
<text x="978.5" y="632" style="font-size:6.5px;text-anchor:middle">undifferentiated</text><text x="978.5" y="639.5" style="font-size:6.5px;text-anchor:middle">Warnbro Group</text>
<text x="978.5" y="652.5" class="n">Bunbury</text><text x="978.5" y="663" class="n">Basalt</text>
<text x="978.5" y="678" class="n">Charlotte</text><text x="978.5" y="688.5" class="n">Sandstone</text>
<text x="978.5" y="702" class="n" style="font-size:9px">Carnac</text><text x="978.5" y="712" class="n" style="font-size:9px">Formation</text>
<text x="978.5" y="725" class="n">Jervoise</text><text x="978.5" y="735" class="n">Sandstone</text>
<text x="978.5" y="746" class="n">Otorowiri</text><text x="978.5" y="756" class="n">Formation</text>
<text x="978.5" y="791" class="n">Yarragadee</text><text x="978.5" y="801.5" class="n">Formation</text>
<text x="978.5" y="848" class="n">Cattamarra</text><text x="978.5" y="858.5" class="n">Coal</text><text x="978.5" y="869" class="n">Measures</text>
<text x="978.5" y="1017" class="n">Lesueur</text><text x="978.5" y="1027.5" class="n">Sandstone</text><text x="978.5" y="1038" class="n">(Myalup</text><text x="978.5" y="1048.5" class="n">Member)</text>
<text x="978.5" y="1146" class="n">Lesueur</text><text x="978.5" y="1156.5" class="n">Sandstone</text><text x="978.5" y="1167" class="n">(Wonnerup</text><text x="978.5" y="1177.5" class="n">Member)</text>
<text x="978.5" y="1195" class="n">Sabina</text><text x="978.5" y="1205.5" class="n">Sandstone</text>
<text x="978.5" y="1250" class="n">Willespie</text><text x="978.5" y="1260.5" class="n">Formation</text>
<text x="978.5" y="1301" class="n">Redgate Coal</text><text x="978.5" y="1311.5" class="n">Measures</text>
<text x="978.5" y="1340" class="n">Ashbrook</text><text x="978.5" y="1350.5" class="n">Sandstone</text>
<text x="978.5" y="1373" class="n">Rosabrook</text><text x="978.5" y="1383.5" class="n">Coal</text><text x="978.5" y="1394" class="n">Measures</text>
<text x="978.5" y="1408" class="n">Woodynook</text><text x="978.5" y="1418" class="n">Sandstone</text>
<text x="978.5" y="1438" class="n">Mosswood</text><text x="978.5" y="1448.5" class="n">Formation</text><text x="978.5" y="1459" class="n">(including</text><text x="978.5" y="1469.5" class="n">'Cullens</text><text x="978.5" y="1480" class="n">Diamictite'</text>
<text class="g" transform="translate(1028.5,630) rotate(-90)">Warnbro Group</text>
<text class="g" transform="translate(1028.5,722) rotate(-90)">Parmelia Group</text>
<text class="g" transform="translate(1028.5,1328) rotate(-90)">Sue Group</text>
<text class="g" transform="translate(1028.5,1456) rotate(-90)">Stockton Group</text>

<g stroke="#222" stroke-width=".9">
<rect x="1111" y="31" width="66" height="23" fill="#fffde6"/>
<rect x="1033" y="126" width="74" height="12" fill="url(#fs)"/>
<rect x="1111" y="121" width="66" height="24" fill="#fffde6"/>
<rect x="1033" y="604" width="74" height="19" fill="url(#fs)"/><rect x="1107" y="604" width="74" height="19" fill="#fffde6"/>
<rect x="1033" y="1259" width="74" height="23" fill="url(#coal)"/><rect x="1107" y="1259" width="74" height="23" fill="#fffde6"/>
<rect x="1033" y="1300" width="74" height="42" fill="url(#coal)"/><rect x="1107" y="1300" width="74" height="118" fill="#fffde6"/>
<rect x="1033" y="1342" width="74" height="8" fill="url(#fs)"/>
<rect x="1033" y="1350" width="74" height="5" fill="url(#cs)"/>
<rect x="1112" y="1337" width="64" height="18" fill="#fffde6"/>
<rect x="1033" y="1355" width="74" height="45" fill="url(#coal)"/>
<rect x="1033" y="1400" width="74" height="18" fill="url(#fs)"/>
<rect x="1107" y="1400" width="74" height="18" fill="#fffde6"/>
<rect x="1033" y="1418" width="74" height="8" fill="url(#clay)"/>
<rect x="1033" y="1426" width="74" height="8" fill="url(#cs)"/>
<rect x="1112" y="1418" width="64" height="29" fill="#fffde6"/>
<rect x="1113" y="1447" width="62" height="25" fill="#fffde6"/>
<rect x="1183" y="1300" width="14" height="118" fill="#b5d89a"/>
<rect x="1183" y="1420" width="14" height="73" fill="#b5d89a"/>
</g>
<text x="1144" y="40" class="n">Quaternary</text><text x="1144" y="50.5" class="n">sandstone</text>
<text x="1144" y="130" class="n">lateritic</text><text x="1144" y="140.5" class="n">sandstone</text>
<text x="1144" y="612" class="n">Nakina</text><text x="1144" y="622" class="n">Formation</text>
<text x="1144" y="1268" class="n">Muja Coal</text><text x="1144" y="1278.5" class="n">Measures</text>
<text x="1144" y="1313" class="n">Premier Coal</text><text x="1144" y="1323.5" class="n">Measures</text>
<text x="1144" y="1344" class="n">Allanson</text><text x="1144" y="1354" class="n">Sandstone</text>
<text x="1144" y="1371" class="n">Ewington</text><text x="1144" y="1381.5" class="n">Coal</text><text x="1144" y="1392" class="n">Measures</text>
<text x="1144" y="1407" class="n">Westralia</text><text x="1144" y="1417" class="n">Sandstone</text>
<text x="1144" y="1430" class="n">Moorhead</text><text x="1144" y="1440.5" class="n">Formation</text>
<text x="1144" y="1457" class="n">Shotts</text><text x="1144" y="1467.5" class="n">Formation</text>
<text class="g" transform="translate(1193.5,1359) rotate(-90)">Collie Group</text>
<text class="g" transform="translate(1193.5,1456) rotate(-90)">Stockton Group</text>

<use href="#sun" x="290" y="827" width="16" height="16"/>
<use href="#sun" x="476" y="829" width="16" height="16"/>
<circle cx="484" cy="849" r="4.5" fill="#1ed61e"/>
<circle cx="484" cy="862" r="4" fill="#1ed61e"/><use href="#sun" x="476" y="854" width="16" height="16"/>
<circle cx="671" cy="647" r="4.5" fill="#1ed61e"/><path d="M666.5 647a4.5 4.5 0 0 1 9 0z" fill="#fff"/><circle cx="671" cy="647" r="4.5" fill="none" stroke="#1ed61e"/>
<circle cx="671" cy="659" r="4.5" fill="#1ed61e"/>
<circle cx="671" cy="695" r="4.5" fill="#1ed61e"/><path d="M666.5 695a4.5 4.5 0 0 1 9 0z" fill="#fff"/><circle cx="671" cy="695" r="4.5" fill="none" stroke="#1ed61e"/>
<circle cx="671" cy="710" r="4.5" fill="#1ed61e"/>
<use href="#sun" x="663" y="695" width="16" height="16"/>
<circle cx="671" cy="736" r="4.5" fill="#1ed61e"/><path d="M666.5 736a4.5 4.5 0 0 1 9 0z" fill="#fff"/><circle cx="671" cy="736" r="4.5" fill="none" stroke="#1ed61e"/>
<circle cx="856" cy="1250" r="4.5" fill="#1ed61e"/><path d="M851.5 1250a4.5 4.5 0 0 1 9 0z" fill="#fff"/><circle cx="856" cy="1250" r="4.5" fill="none" stroke="#1ed61e"/>
<use href="#sun" x="848" y="1280" width="16" height="16"/>
<use href="#sun" x="848" y="1300" width="16" height="16"/>
<use href="#sun" x="848" y="1319" width="16" height="16"/>

<g stroke="#222" stroke-width="1.2" fill="none">
<rect x="1" y="1" width="1197" height="1548"/>
<path d="M1 30h1197"/>
<path d="M34 1v1548M71 1v1548M134 1v1548M213 1v1548M250 1v1548M287 1v1548M309 1v1548M474 1v1548M661 1v1548M846 1v1548M1033 1v1548"/>
<path d="M383 30v1519M456 30v1519M494 30v1519M569 30v1519M642 30v1519M681 30v1519M756 30v1519M829 30v1519M867 30v1519M942 30v1519M1016 30v1519M1107 30v1519M1181 30v1519"/>
</g>
<text x="17" y="14" class="h">Age</text><text x="17" y="26" class="h">(Ma)</text>
<text x="52.5" y="20" class="h">Period</text>
<text x="102.5" y="20" class="h">Epoch</text>
<text x="173.5" y="20" class="h">Stage</text>
<text x="231.5" y="11" class="hs">Onshore</text><text x="231.5" y="18" class="hs">Basin</text><text x="231.5" y="25" class="hs">Phases</text>
<text x="268.5" y="11" class="hs">Offshore</text><text x="268.5" y="18" class="hs">Basin</text><text x="268.5" y="25" class="hs">Phases</text>
<text x="391" y="20" class="h">Mandurah Terrace</text>
<text x="567" y="20" class="h">Beermullah Trough</text>
<text x="753" y="20" class="h">Vlaming Sub-basin</text>
<text x="939" y="20" class="h">Bunbury Trough</text>
<text x="1115" y="20" class="h">Collie Sub-basin</text>

<text x="1196" y="1560" style="font-size:8px;text-anchor:end;fill:#333">PP-3545-5</text>

<g stroke="#222" stroke-width="1.5">
<rect x="137" y="1568" width="33" height="23" fill="url(#fs)"/>
<rect x="137" y="1601" width="33" height="23" fill="url(#cs)"/>
<rect x="309" y="1568" width="33" height="23" fill="url(#coal)"/>
<rect x="309" y="1601" width="33" height="23" fill="url(#lime)"/>
<rect x="482" y="1568" width="33" height="23" fill="url(#clay)"/>
<rect x="482" y="1601" width="33" height="23" fill="url(#sclay)"/>
<rect x="654" y="1568" width="33" height="23" fill="url(#silt)"/>
<rect x="654" y="1601" width="33" height="23" fill="url(#volc)"/>
</g>
<text x="180" y="1584" class="lg">Fine-grained sandstone</text>
<text x="180" y="1617" class="lg">Clayey sandstone</text>
<text x="352" y="1577" class="lg">Clayey sandstone with</text><text x="352" y="1590" class="lg">coal measures</text>
<text x="352" y="1617" class="lg">Limestone</text>
<text x="525" y="1584" class="lg">Claystone</text>
<text x="525" y="1617" class="lg">Sandy claystone</text>
<text x="697" y="1584" class="lg">Siltstone</text>
<text x="697" y="1617" class="lg">Volcanics</text>
<circle cx="792" cy="1580" r="4.5" fill="#1ed61e"/>
<text x="806" y="1584" class="lg">Oil discovery</text>
<use href="#sun" x="784" y="1590" width="16" height="16"/>
<text x="806" y="1602" class="lg">Gas discovery</text>
<circle cx="792" cy="1617" r="4" fill="#1ed61e"/><use href="#sun" x="784" y="1609" width="16" height="16"/>
<text x="806" y="1621" class="lg">Oil and gas discovery</text>
<circle cx="964" cy="1580" r="4" fill="#1ed61e"/><path d="M960 1580a4 4 0 0 1 8 0z" fill="#fff"/><use href="#sun" x="956" y="1572" width="16" height="16"/>
<text x="979" y="1584" class="lg">Oil and gas show</text>
<circle cx="964" cy="1598" r="4.5" fill="#1ed61e"/><path d="M959.5 1598a4.5 4.5 0 0 1 9 0z" fill="#fff"/><circle cx="964" cy="1598" r="4.5" fill="none" stroke="#1ed61e"/>
<text x="979" y="1602" class="lg">Oil show</text>
<use href="#sun" x="956" y="1609" width="16" height="16"/>
<text x="979" y="1621" class="lg">Gas show</text>
</svg>
</body></html>
